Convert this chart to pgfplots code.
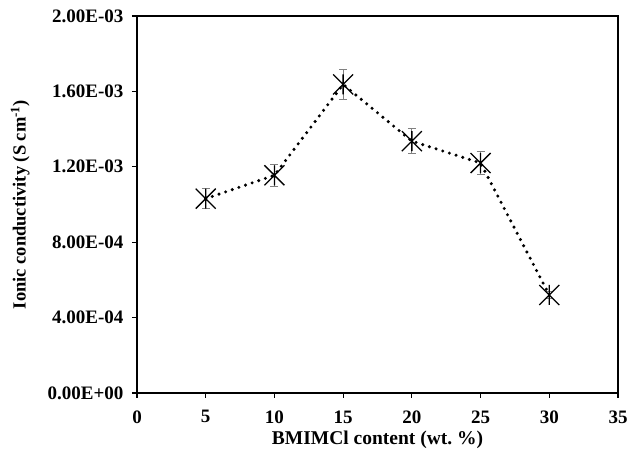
\documentclass[border=0pt]{standalone}
\usepackage{pgfplots}
\pgfplotsset{compat=1.18}
\usepackage{fontspec}
\setmainfont{Liberation Serif}

% Excel-style "star" marker: a diagonal cross with a vertical bar
\pgfdeclareplotmark{xstar}{%
  \pgfpathmoveto{\pgfqpoint{-\pgfplotmarksize}{-\pgfplotmarksize}}%
  \pgfpathlineto{\pgfqpoint{\pgfplotmarksize}{\pgfplotmarksize}}%
  \pgfpathmoveto{\pgfqpoint{-\pgfplotmarksize}{\pgfplotmarksize}}%
  \pgfpathlineto{\pgfqpoint{\pgfplotmarksize}{-\pgfplotmarksize}}%
  \pgfpathmoveto{\pgfqpoint{0pt}{-\pgfplotmarksize}}%
  \pgfpathlineto{\pgfqpoint{0pt}{\pgfplotmarksize}}%
  \pgfusepathqstroke
}

\pgfplotstableread{
x    y         err
5    1.031e-3  0.053e-3
10   1.155e-3  0.058e-3
15   1.637e-3  0.080e-3
20   1.336e-3  0.067e-3
25   1.220e-3  0.062e-3
30   0.520e-3  0.020e-3
}\conductivity

\begin{document}
\begin{tikzpicture}
\path[use as bounding box] (0,0) rectangle (628pt,454pt);
\begin{axis}[
  at={(137pt,61pt)}, anchor=south west,
  scale only axis, width=481pt, height=377pt,
  xmin=0, xmax=35, ymin=0, ymax=0.002,
  xtick={0,5,...,35},
  xticklabels={0,5,10,15,20,25,30,35},
  ytick={0,0.0004,0.0008,0.0012,0.0016,0.002},
  yticklabels={0.00E+00,4.00E-04,8.00E-04,1.20E-03,1.60E-03,2.00E-03},
  scaled y ticks=false,
  xtick pos=left, ytick pos=left,
  tick align=outside, major tick length=5pt,
  tick style={black, line width=1.2pt},
  axis line style={black, line width=1.3pt},
  ticklabel style={font=\bfseries\fontsize{19}{22}\selectfont},
  yticklabel style={xshift=-5pt},
  xticklabel style={yshift=-9pt},
  xlabel={BMIMCl content (wt.\ \%)},
  ylabel={Ionic conductivity (S cm\textsuperscript{-1})},
  xlabel style={font=\bfseries\fontsize{19.5}{22}\selectfont,
    at={(axis description cs:0.5,-0.124)}, anchor=center},
  ylabel style={font=\bfseries\fontsize{18.5}{22}\selectfont,
    at={(axis description cs:-0.243,0.5)}, anchor=center},
  clip=false,
]
% dotted connecting line with star markers
\addplot[black, line width=3.4pt, line cap=round,
  dash pattern=on 0pt off 7pt,
  mark=xstar, mark size=10pt,
  mark options={solid, line width=1.3pt, line cap=butt}]
  table[x=x, y=y] {\conductivity};
% grey error bars drawn on top
\addplot[draw=none, mark=none, forget plot,
  error bars/.cd, y dir=both, y explicit,
  error bar style={draw=gray, solid, line width=1.1pt},
  error mark options={draw=gray, solid, line width=1.1pt, mark size=4pt, rotate=90}]
  table[x=x, y=y, y error=err] {\conductivity};
\end{axis}
\end{tikzpicture}
\end{document}
